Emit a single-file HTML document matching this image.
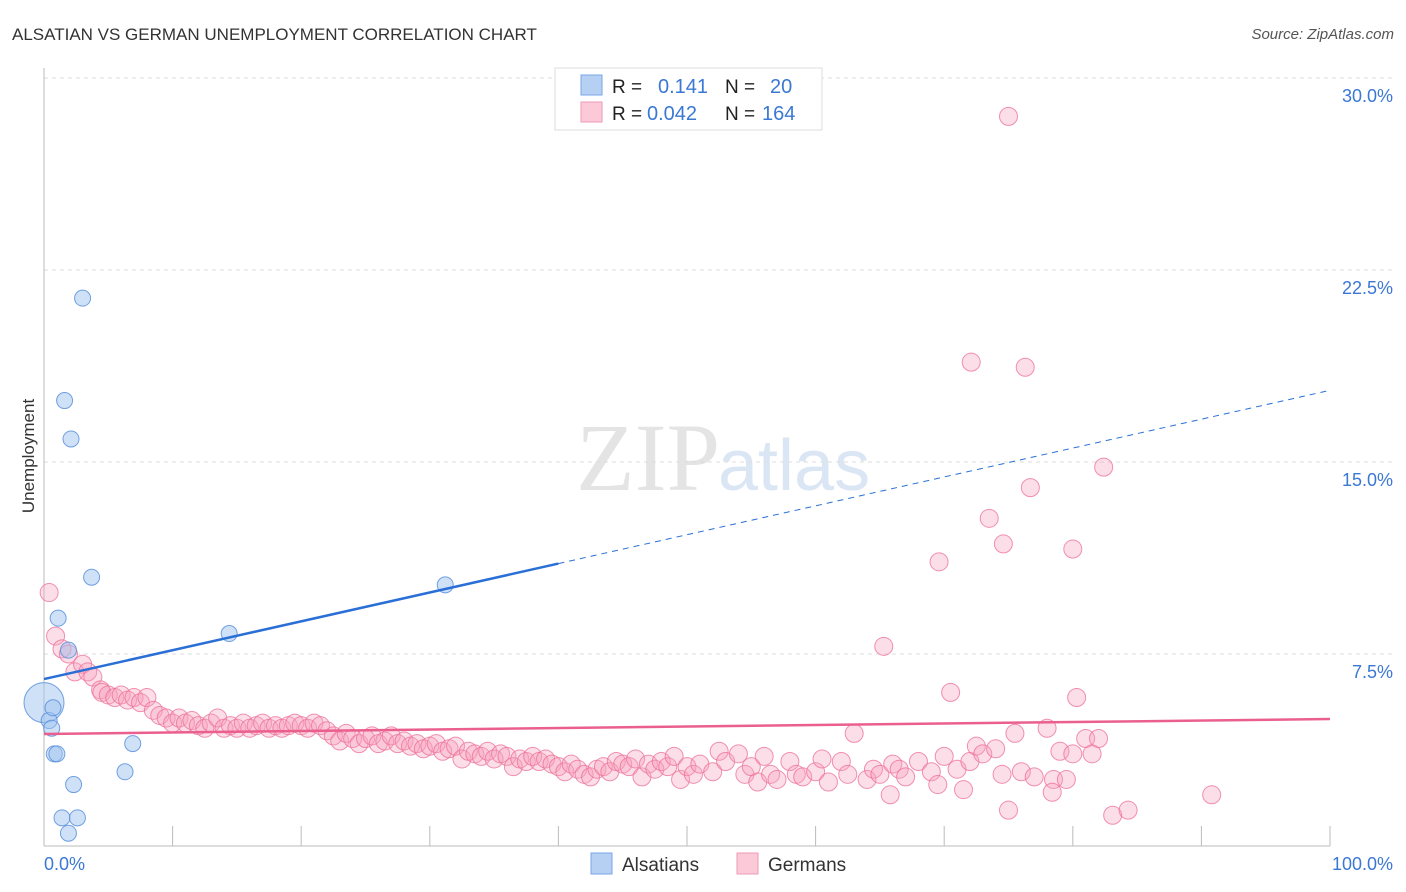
<!DOCTYPE html>
<html><head><meta charset="utf-8">
<style>
body{margin:0;background:#fff;font-family:"Liberation Sans",sans-serif;}
#wrap{position:relative;width:1406px;height:892px;overflow:hidden;}
</style></head>
<body>
<div id="wrap">
<svg id="chart" width="1406" height="892" xmlns="http://www.w3.org/2000/svg">
<text x="12" y="40" font-size="17" fill="#333">ALSATIAN VS GERMAN UNEMPLOYMENT CORRELATION CHART</text>
<text x="1394" y="39" font-size="15" fill="#555" text-anchor="end" font-style="italic">Source: ZipAtlas.com</text>
<text x="720" y="490" font-size="96" fill="#e4e4e4" text-anchor="end" font-family="Liberation Serif,serif">ZIP</text>
<text x="718" y="490" font-size="72" fill="#dbe6f5">atlas</text>
<g id="grid"></g>
<g id="axes"></g>
<g id="pts"></g>
<g id="lines"></g>
<text x="34" y="456" font-size="17" fill="#333" text-anchor="middle" transform="rotate(-90 34 456)">Unemployment</text>
<g>
<rect x="555" y="68" width="267" height="62" fill="#fff" stroke="#ddd"/>
<rect x="581" y="75" width="21" height="20" fill="#b6d0f4" stroke="#7aa6e6"/>
<rect x="581" y="102" width="21" height="20" fill="#fbc9d8" stroke="#ef9ab5"/>
<text x="612" y="93" font-size="19" fill="#222">R = </text>
<text x="658" y="93" font-size="20" fill="#3a78d4">0.141</text>
<text x="725" y="93" font-size="19" fill="#222">N = </text>
<text x="770" y="93" font-size="20" fill="#3a78d4">20</text>
<text x="612" y="120" font-size="19" fill="#222">R = </text>
<text x="647" y="120" font-size="20" fill="#3a78d4">0.042</text>
<text x="725" y="120" font-size="19" fill="#222">N = </text>
<text x="762" y="120" font-size="20" fill="#3a78d4">164</text>
</g>
<g>
<rect x="591" y="853" width="21" height="21" fill="#b6d0f4" stroke="#7aa6e6"/>
<text x="622" y="871" font-size="19" fill="#333">Alsatians</text>
<rect x="737" y="853" width="21" height="21" fill="#fbc9d8" stroke="#ef9ab5"/>
<text x="768" y="871" font-size="19" fill="#333">Germans</text>
</g>
</svg>
</div>
<script>
const yTicks=[7.5,15,22.5,30];
const yTickLabels=["7.5%","15.0%","22.5%","30.0%"];
const xTickLabels=["0.0%","100.0%"];
const blueX=[0,0.4,0.6,0.7,0.8,1.0,1.1,1.4,1.6,1.9,2.1,2.3,2.6,1.9,3.0,3.7,6.3,6.9,14.4,31.2];
const blueY=[5.6,4.9,4.6,5.4,3.6,3.6,8.9,1.1,17.4,7.65,15.9,2.4,1.1,0.5,21.4,10.5,2.9,4.0,8.3,10.2];
const blueR=[20,8,8,8,8,8,8,8,8,8,8,8,8,8,8,8,8,8,8,8];
const pinkX=[0.4,0.9,1.4,1.9,2.4,3.0,3.4,3.8,4.4,4.5,5,5.5,6,6.5,7,7.5,8,8.5,9,9.5,10,10.5,11,11.5,12,12.5,13,13.5,14,14.5,15,15.5,16,16.5,17,17.5,18,18.5,19,19.5,20,20.5,21,21.5,22,22.5,23,23.5,24,24.5,25,25.5,26,26.5,27,27.5,28,28.5,29,29.5,30,30.5,31,31.5,32,32.5,33,33.5,34,34.5,35,35.5,36,36.5,37,37.5,38,38.5,39,39.5,40,40.5,41,41.5,42,42.5,43,43.5,44,44.5,45,45.5,46,46.5,47,47.5,48,48.5,49,49.5,50,50.5,51,52,52.5,53,54,54.5,55,55.5,56,56.5,57,58,58.5,59,60,60.5,61,62,62.5,63,64,64.5,65,66,66.5,67,68,69,69.5,70,71,71.5,72,72.5,73,74,74.5,75,75.5,76,77,78,78.5,79,80,81,81.5,82,79.5,75.0,72.1,76.3,82.4,76.7,73.5,74.6,80.0,69.6,65.3,70.5,80.3,78.4,83.1,84.3,90.8,65.8];
const pinkY=[9.9,8.2,7.7,7.5,6.8,7.1,6.8,6.6,6.1,6.0,5.9,5.8,5.9,5.7,5.8,5.6,5.8,5.3,5.1,5.0,4.8,5.0,4.8,4.9,4.7,4.6,4.8,5.0,4.6,4.7,4.6,4.8,4.6,4.7,4.8,4.6,4.7,4.6,4.7,4.8,4.7,4.6,4.8,4.7,4.5,4.3,4.1,4.4,4.2,4.0,4.2,4.3,4.0,4.1,4.3,4.0,4.1,3.9,4.0,3.8,3.9,4.0,3.7,3.8,3.9,3.4,3.7,3.6,3.5,3.7,3.4,3.6,3.5,3.1,3.4,3.3,3.5,3.3,3.4,3.2,3.1,2.9,3.2,3.0,2.8,2.7,3.0,3.1,2.9,3.3,3.2,3.1,3.4,2.7,3.2,3.0,3.3,3.1,3.5,2.6,3.1,2.8,3.2,2.9,3.7,3.3,3.6,2.8,3.1,2.5,3.5,2.8,2.6,3.3,2.8,2.7,2.9,3.4,2.5,3.3,2.8,4.4,2.6,3.0,2.8,3.2,3.0,2.7,3.3,2.9,2.4,3.5,3.0,2.2,3.3,3.9,3.6,3.8,2.8,1.4,4.4,2.9,2.7,4.6,2.6,3.7,3.6,4.2,3.6,4.2,2.6,28.5,18.9,18.7,14.8,14.0,12.8,11.8,11.6,11.1,7.8,6.0,5.8,2.1,1.2,1.4,2.0,2.0];
const blueLine=[6.52,17.8];
const pinkLine=[4.375,4.96];

const X0=44,X1=1330,Y0=846,PXPER=25.6;
function sx(v){return X0+(X1-X0)*v/100;}
function sy(v){return Y0-v*PXPER;}
const NS="http://www.w3.org/2000/svg";
function mk(tag,attrs,parent){const e=document.createElementNS(NS,tag);for(const k in attrs)e.setAttribute(k,attrs[k]);parent.appendChild(e);return e;}
const grid=document.getElementById('grid'),axes=document.getElementById('axes'),pts=document.getElementById('pts'),lines=document.getElementById('lines');

yTicks.forEach((t,i)=>{
  const l=mk('line',{x1:X0,x2:1393,y1:sy(t),y2:sy(t),stroke:'#ddd','stroke-dasharray':'4,4'},grid);
  
  
  const tx=mk('text',{x:1393,y:sy(t)+24,'font-size':18,fill:'#3a78d4','text-anchor':'end'},grid);
  tx.textContent=yTickLabels[i];
  
  
});
const ya=mk('line',{x1:X0,x2:X0,y1:68,y2:Y0,stroke:'#bbb'},axes);


const xa=mk('line',{x1:X0,x2:X1,y1:Y0,y2:Y0,stroke:'#bbb'},axes);


for(let i=1;i<=10;i++){
  const t=mk('line',{x1:sx(i*10),x2:sx(i*10),y1:Y0-20,y2:Y0,stroke:'#bbb'},axes);
  
  
}
const xl0=mk('text',{x:44,y:870,'font-size':18,fill:'#3a78d4'},axes);
xl0.textContent=xTickLabels[0];


const xl1=mk('text',{x:1393,y:870,'font-size':18,fill:'#3a78d4','text-anchor':'end'},axes);
xl1.textContent=xTickLabels[1];



pinkX.forEach((x,i)=>{
  const c=mk('circle',{cx:sx(x),cy:sy(pinkY[i]),r:9,fill:'rgba(246,160,188,0.35)',stroke:'rgba(236,110,150,0.75)','stroke-width':1},pts);
  
  
});
blueX.forEach((x,i)=>{
  const c=mk('circle',{cx:sx(x),cy:sy(blueY[i]),r:blueR[i],fill:'rgba(160,196,240,0.5)',stroke:'rgba(90,145,220,0.85)','stroke-width':1},pts);
  
  
});
const bm=blueLine[0]+(blueLine[1]-blueLine[0])*0.4;
const b1=mk('line',{x1:sx(0),y1:sy(blueLine[0]),x2:sx(40),y2:sy(bm),stroke:'#2a6fd6','stroke-width':2.5},lines);


const b2=mk('line',{x1:sx(40),y1:sy(bm),x2:sx(100),y2:sy(blueLine[1]),stroke:'#2a6fd6','stroke-width':1,'stroke-dasharray':'6,5'},lines);


const p1=mk('line',{x1:sx(0),y1:sy(pinkLine[0]),x2:sx(100),y2:sy(pinkLine[1]),stroke:'#ea5f8e','stroke-width':2.5},lines);


</script>
</body></html>
